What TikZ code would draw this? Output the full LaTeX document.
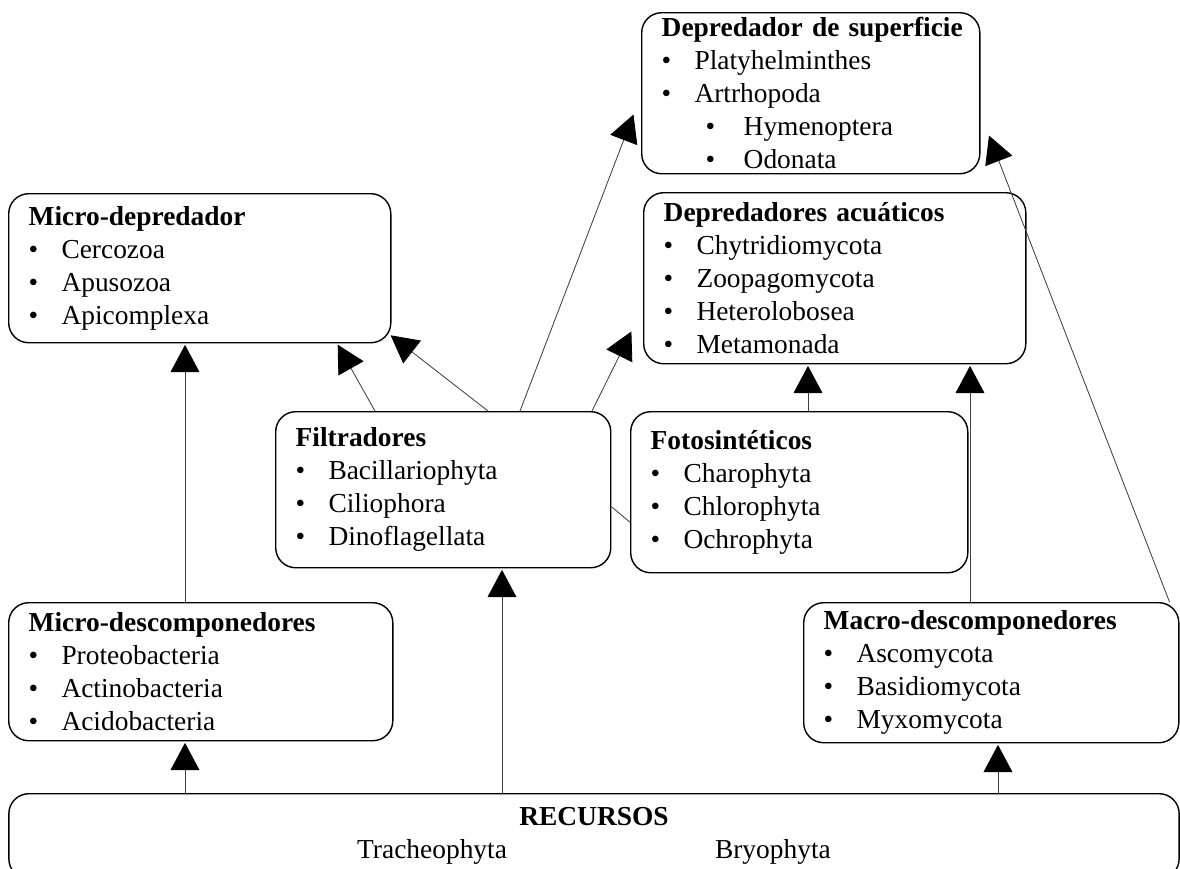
\documentclass[tikz,border=0pt]{standalone}
\usepackage{fontspec}
\setmainfont{Liberation Serif}
\usetikzlibrary{arrows.meta}

% bullet lines inside the boxes
\newcommand{\itm}[1]{\makebox[0.82cm][l]{\textbullet}#1}
\newcommand{\subitm}[1]{\hspace*{1.1cm}\makebox[0.95cm][l]{\textbullet}#1}

\begin{document}
\begin{tikzpicture}[x=0.025cm, y=-0.025cm,
  box/.style={draw, line width=1pt, rounded corners=0.5cm, anchor=north west,
    align=left, inner xsep=0.5cm, inner ysep=0pt,
    font=\fontsize{19.5}{23.5}\selectfont},
  arr/.style={draw=black!75, line width=0.6pt,
    -{Triangle[length=0.68cm, width=0.72cm, color=black]}, shorten >=1pt},
  link/.style={draw=black!75, line width=0.6pt}]
\useasboundingbox (0,0) rectangle (1180,869);

% Top row
\node[box, text width=7.45cm, minimum height=4.025cm] (depsup) at (641,12)
  {\mbox{\textbf{Depredador de superficie}}\\ \itm{Platyhelminthes}\\ \itm{Artrhopoda}\\
   \subitm{Hymenoptera}\\ \subitm{Odonata}};
\node[box, text width=8.55cm, minimum height=3.725cm] (microdep) at (8,193)
  {\textbf{Micro-depredador}\\ \itm{Cercozoa}\\ \itm{Apusozoa}\\ \itm{Apicomplexa}};
\node[box, text width=8.55cm, minimum height=4.275cm] (depacu) at (643,192)
  {\textbf{Depredadores acuáticos}\\ \itm{Chytridiomycota}\\ \itm{Zoopagomycota}\\
   \itm{Heterolobosea}\\ \itm{Metamonada}};

% Middle row
\node[box, text width=7.375cm, minimum height=3.9cm] (filtr) at (275,411)
  {\textbf{Filtradores}\\ \itm{Bacillariophyta}\\ \itm{Ciliophora}\\ \itm{Dinoflagellata}};
\node[box, text width=7.425cm, minimum height=4.025cm] (fotos) at (630,411)
  {\textbf{Fotosintéticos}\\ \itm{Charophyta}\\ \itm{Chlorophyta}\\ \itm{Ochrophyta}};

% Decomposers
\node[box, text width=8.6cm, minimum height=3.45cm] (microdesc) at (8,602)
  {\textbf{Micro-descomponedores}\\ \itm{Proteobacteria}\\ \itm{Actinobacteria}\\ \itm{Acidobacteria}};
\node[box, text width=8.375cm, minimum height=3.5cm] (macro) at (803,602)
  {\textbf{Macro-descomponedores}\\ \itm{Ascomycota}\\ \itm{Basidiomycota}\\ \itm{Myxomycota}};

% Resources
\node[box, anchor=north, text width=29.25cm, inner xsep=0pt, inner ysep=0.35cm, align=center]
  (recursos) at (594,793)
  {\textbf{RECURSOS}\\ Tracheophyta\hspace{5.2cm}Bryophyta};

% columns for the vertical arrows
\coordinate (xa) at (185,0);
\coordinate (xb) at (502,0);
\coordinate (xc) at (998,0);
\coordinate (xd) at (970,0);
\coordinate (xe) at (808,0);
\coordinate (xf) at (375,0);
\coordinate (xg) at (337,0);
\coordinate (xh) at (488,0);
\coordinate (xi) at (520,0);
\coordinate (xj) at (592,0);

% Arrows
\draw[arr] (recursos.north -| xa) -- (microdesc.south -| xa);
\draw[arr] (microdesc.north -| xa) -- (microdep.south -| xa);
\draw[arr] (recursos.north -| xb) -- (filtr.south -| xb);
\draw[arr] (recursos.north -| xc) -- (macro.south -| xc);
\draw[arr] (macro.north -| xd) -- (depacu.south -| xd);
\draw[arr] (fotos.north -| xe) -- (depacu.south -| xe);
\draw[arr] (filtr.north -| xf) -- (microdep.south -| xg);
\draw[arr] (filtr.north -| xh) -- ([shift={(-2,-9)}]microdep.south east);
\draw[arr] (filtr.north -| xi) -- ([shift={(-7,20)}]depsup.west);
\draw[arr] (filtr.north -| xj) -- ([shift={(-11,52)}]depacu.west);
\draw[arr] ([shift={(-10,0)}]macro.north east) -- ([shift={(8,41)}]depsup.east);
\draw[link] ([shift={(0,17)}]filtr.east) -- ([shift={(0,30)}]fotos.west);
\end{tikzpicture}
\end{document}
